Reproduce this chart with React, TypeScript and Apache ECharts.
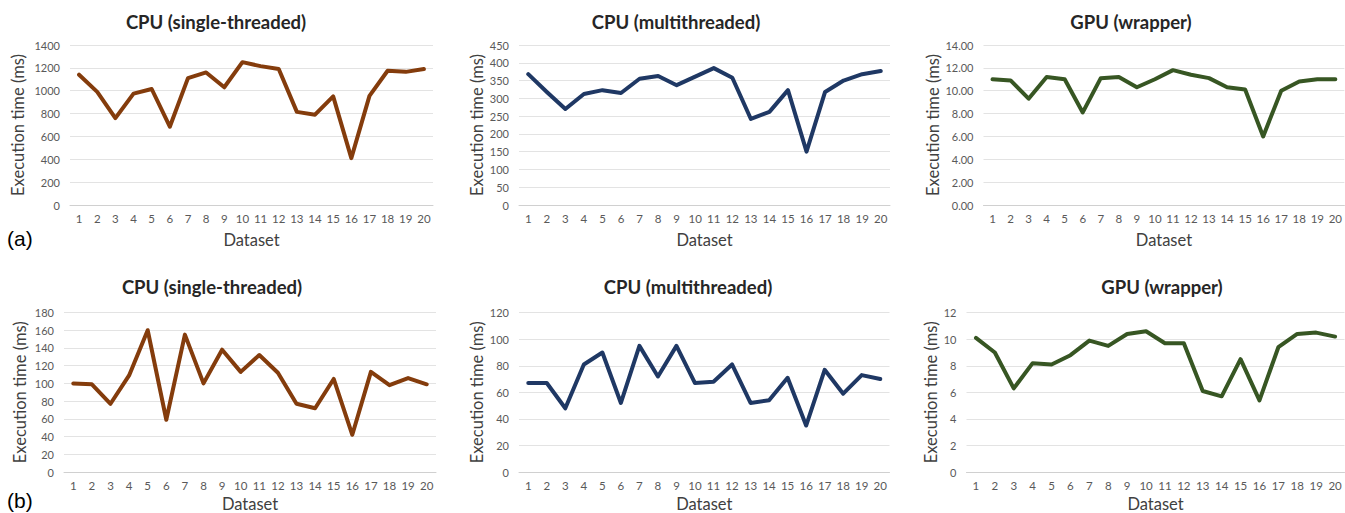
import React, { useEffect, useRef } from "react";
import * as echarts from "echarts";

// ---- data ----
const datasets = ["1", "2", "3", "4", "5", "6", "7", "8", "9", "10", "11", "12", "13", "14", "15", "16", "17", "18", "19", "20"];

const titles = ["CPU (single-threaded)", "CPU (multithreaded)", "GPU (wrapper)", "CPU (single-threaded)", "CPU (multithreaded)", "GPU (wrapper)"];

const cpuSingleA = [1140, 990, 760, 975, 1015, 685, 1110, 1160, 1030, 1250, 1215, 1190, 815, 790, 950, 410, 955, 1175, 1165, 1190];
const cpuMultiA = [368, 318, 270, 312, 323, 315, 355, 363, 337, 361, 385, 358, 242, 262, 323, 150, 318, 350, 368, 377];
const gpuA = [11.0, 10.9, 9.3, 11.2, 11.0, 8.1, 11.1, 11.2, 10.3, 11.0, 11.8, 11.4, 11.1, 10.3, 10.1, 6.0, 10.0, 10.8, 11.0, 11.0];

const cpuSingleB = [100, 99, 77, 109, 160, 59, 155, 100, 138, 113, 132, 112, 77, 72, 105, 42, 113, 98, 106, 99];
const cpuMultiB = [67, 67, 48, 81, 90, 52, 95, 72, 95, 67, 68, 81, 52, 54, 71, 35, 77, 59, 73, 70];
const gpuB = [10.1, 9.0, 6.3, 8.2, 8.1, 8.8, 9.9, 9.5, 10.4, 10.6, 9.7, 9.7, 6.1, 5.7, 8.5, 5.4, 9.4, 10.4, 10.5, 10.2];

const yMax = [1400, 450, 14, 180, 120, 12];
const yStep = [200, 50, 2, 20, 20, 2];
const yDecimals = [0, 0, 2, 0, 0, 0];
const panelLabels = ["(a)", "(b)"];

const seriesData = [cpuSingleA, cpuMultiA, gpuA, cpuSingleB, cpuMultiB, gpuB];

// ---- layout / style ----
const colors = ["#843C0C", "#1F3864", "#375623", "#843C0C", "#1F3864", "#375623"];
const grids = [
  { left: 70, top: 45, width: 363, height: 160 },
  { left: 519, top: 45, width: 371, height: 160 },
  { left: 983.5, top: 45, width: 361.5, height: 160 },
  { left: 64, top: 312.5, width: 372, height: 160.2 },
  { left: 519, top: 312.7, width: 370.5, height: 160 },
  { left: 966.5, top: 312.7, width: 378, height: 160 },
];
const titleCenters = [216, 676, 1131, 212, 688, 1162];
const titleTops = [12, 12, 12, 277, 277, 277];
const yNameGaps = [44, 31, 39, 36, 31, 24];
const xNameGaps = [26, 26, 26, 23, 23, 23];

const FONT = "Lato, 'Open Sans', sans-serif";

export default function App() {
  const ref = useRef<HTMLDivElement>(null);

  useEffect(() => {
    if (!ref.current) return;
    const chart = echarts.init(ref.current, undefined, { renderer: "svg" });

    const option: any = {
      animation: false,
      backgroundColor: "#ffffff",
      textStyle: { fontFamily: FONT },
      title: titles.map((t, i) => ({
        text: t,
        left: titleCenters[i],
        top: titleTops[i],
        textAlign: "center",
        padding: 0,
        textStyle: { fontFamily: FONT, fontSize: 18.5, fontWeight: "bold", color: "#262626" },
      })),
      grid: grids.map((g) => ({ ...g, containLabel: false })),
      xAxis: grids.map((_, i) => ({
        type: "category",
        gridIndex: i,
        data: datasets,
        boundaryGap: true,
        name: "Dataset",
        nameLocation: "middle",
        nameGap: xNameGaps[i],
        nameTextStyle: { fontFamily: FONT, fontSize: 16.5, color: "#404040" },
        axisLine: { show: true, lineStyle: { color: "#d0d0d0", width: 1 } },
        axisTick: { show: false },
        axisLabel: { interval: 0, margin: 7, fontFamily: FONT, fontSize: 11.5, color: "#595959" },
        splitLine: { show: false },
      })),
      yAxis: grids.map((_, i) => ({
        type: "value",
        gridIndex: i,
        min: 0,
        max: yMax[i],
        interval: yStep[i],
        name: "Execution time (ms)",
        nameLocation: "middle",
        nameGap: yNameGaps[i],
        nameTextStyle: { fontFamily: FONT, fontSize: 16.5, color: "#404040" },
        axisLine: { show: false },
        axisTick: { show: false },
        axisLabel: {
          margin: 10,
          fontFamily: FONT,
          fontSize: 11,
          color: "#595959",
          formatter: (v: number) => v.toFixed(yDecimals[i]),
        },
        splitLine: { show: true, lineStyle: { color: "#e3e3e3", width: 1 } },
      })),
      series: seriesData.map((d, i) => ({
        type: "line",
        xAxisIndex: i,
        yAxisIndex: i,
        data: d,
        showSymbol: false,
        symbol: "none",
        lineStyle: { color: colors[i], width: 4, cap: "round", join: "round" },
        itemStyle: { color: colors[i] },
      })),
      graphic: [
        {
          type: "text",
          x: 7,
          y: 238,
          style: { text: panelLabels[0], font: "21px 'Liberation Sans', Arial, sans-serif", fill: "#000", verticalAlign: "middle" },
        },
        {
          type: "text",
          x: 7,
          y: 500,
          style: { text: panelLabels[1], font: "21px 'Liberation Sans', Arial, sans-serif", fill: "#000", verticalAlign: "middle" },
        },
      ],
    };

    chart.setOption(option);
    return () => chart.dispose();
  }, []);

  return (
    <div
      ref={ref}
      style={{ position: "fixed", left: 0, top: 0, width: 1345, height: 513, background: "#fff" }}
    />
  );
}
